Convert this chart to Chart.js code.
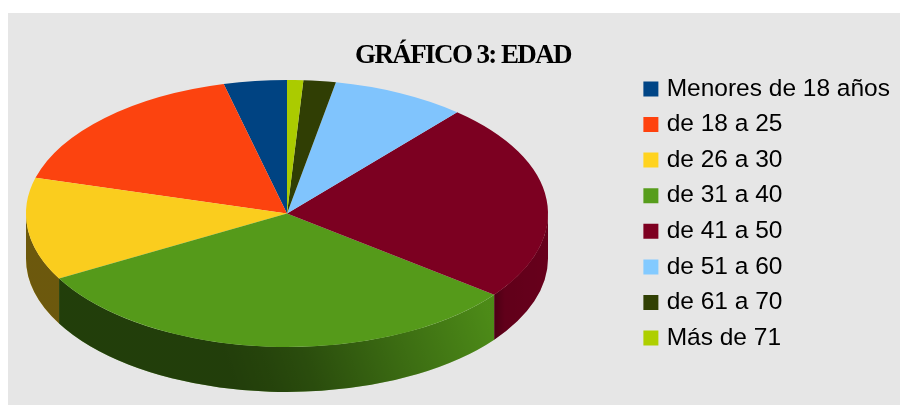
<!DOCTYPE html>
<html>
<head>
<meta charset="utf-8">
<title>Gráfico 3: Edad</title>
<script src="https://cdn.jsdelivr.net/npm/chart.js@4"></script>
<style>
    html, body { margin: 0; padding: 0; background: #ffffff; }
    #panel { position: absolute; left: 8px; top: 13px; width: 892px; height: 392px; background: #e6e6e6; }
    #grafico { position: absolute; left: 0; top: 0; }
</style>
</head>
<body>
<div id="panel"></div>
<canvas id="grafico" width="900" height="405"></canvas>
<script>
const tituloGrafico = 'GRÁFICO 3: EDAD';
const categorias = ['Menores de 18 años', 'de 18 a 25', 'de 26 a 30', 'de 31 a 40', 'de 41 a 50', 'de 51 a 60', 'de 61 a 70', 'Más de 71'];
const valores = [3.9, 16.8, 12.4, 31.5, 24.1, 8.3, 2.0, 1.0];
const colores = ['#004586', '#ff420e', '#ffd320', '#579d1c', '#7e0021', '#83caff', '#314004', '#aecf00'];
const coloresCara = ['#004382', '#fc430f', '#facd1e', '#559a1a', '#7c0021', '#80c4fd', '#303e04', '#abcb00'];

// geometria de la elipse
const centroX = 287, centroY = 213.5, radioX = 261, radioY = 133.5, grosor = 45;

// Sombra del canto, [posicion, alfa de negro]
const sombraAmarillo = [[0, 0.57], [1, 0.57]];
const sombraVerde = [[0, 0.6], [0.36, 0.6], [0.43, 0.56], [0.5, 0.5], [0.663, 0.3], [0.84, 0.1], [1, 0.1]];
const sombraGranate = [[0, 0.4], [0.2, 0.22], [1, 0.17]];

function crearSombra(ctx, x0, y0, x1, y1, paradas) {
    const grad = ctx.createLinearGradient(x0, y0, x1, y1);
    paradas.forEach(p => grad.addColorStop(p[0], 'rgba(0,0,0,' + p[1] + ')'));
    return grad;
}

function dibujarCanto(ctx, arcos) {
    const sombras = {
        2: crearSombra(ctx, 26, 0, 60, 0, sombraAmarillo),
        3: crearSombra(ctx, 26, 392, 548, 213, sombraVerde),
        4: crearSombra(ctx, 494, 0, 548, 0, sombraGranate)
    };

    arcos.forEach((arco, i) => {
        // solo la mitad delantera se ve
        const ini = Math.max(arco.startAngle, 0);
        const fin = Math.min(arco.endAngle, Math.PI);
        if (ini >= fin) return;

        ctx.beginPath();
        ctx.ellipse(centroX, centroY, radioX, radioY, 0, Math.PI - ini, Math.PI - fin, true);
        ctx.ellipse(centroX, centroY + grosor, radioX, radioY, 0, Math.PI - fin, Math.PI - ini, false);
        ctx.closePath();
        ctx.fillStyle = coloresCara[i];
        ctx.fill();
        if (sombras[i]) {
            ctx.fillStyle = sombras[i];
            ctx.fill();
        }
    });
}

// Pie en perspectiva: aplasta el circulo a elipse y le pone canto
const pie3d = {
    id: 'pie3d',
    afterLayout(chart) {
        const bloque = chart.titleBlock;
        const original = bloque.draw;
        bloque.draw = function () {
            chart.ctx.letterSpacing = '-1.6px';
            original.call(bloque);
            chart.ctx.letterSpacing = '0px';
        };
    },
    beforeDatasetsDraw(chart) {
        const ctx = chart.ctx;
        const arcos = chart.getDatasetMeta(0).data;
        dibujarCanto(ctx, arcos);
        ctx.save();
        ctx.translate(centroX, centroY);
        ctx.scale(-1, radioY / radioX);
        ctx.translate(-arcos[0].x, -arcos[0].y);
    },
    afterDatasetsDraw(chart) {
        chart.ctx.restore();
    }
};

new Chart(document.getElementById('grafico'), {
    type: 'pie',
    data: {
        labels: categorias,
        datasets: [{
            data: valores,
            backgroundColor: coloresCara,
            borderWidth: 0,
            radius: radioX,
            clip: false
        }]
    },
    options: {
        responsive: false,
        animation: false,
        layout: { padding: { left: 26, right: 0, top: 22, bottom: 0 } },
        plugins: {
            tooltip: { enabled: false },
            title: {
                display: true,
                text: tituloGrafico,
                color: '#000000',
                font: { family: '"Liberation Serif"', size: 27, weight: 'bold' },
                padding: { top: 18, bottom: 0 }
            },
            legend: {
                position: 'right',
                labels: {
                    color: '#111111',
                    font: { family: '"Liberation Sans"', size: 24.5 },
                    boxWidth: 7,
                    boxHeight: 7,
                    padding: 11.1,
                    generateLabels: () => categorias.map((texto, i) => ({
                        text: texto,
                        fillStyle: colores[i],
                        strokeStyle: colores[i],
                        lineWidth: 8,
                        index: i
                    }))
                }
            }
        }
    },
    plugins: [pie3d]
});
</script>
</body>
</html>
